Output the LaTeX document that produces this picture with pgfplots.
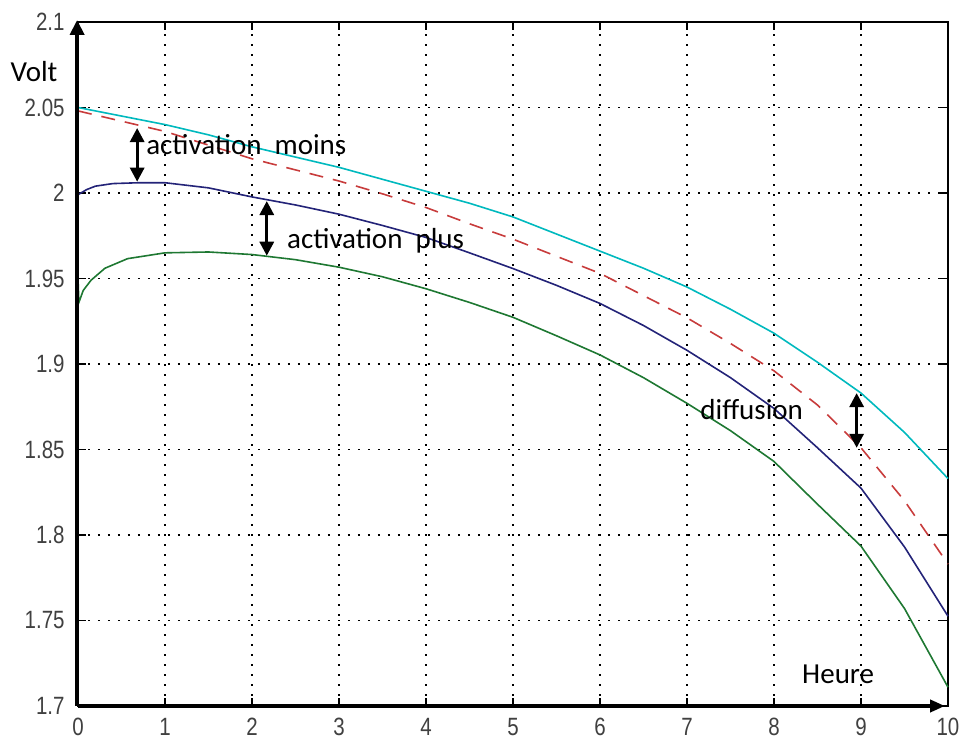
\documentclass[border=0pt]{standalone}
\usepackage{fontspec}
\setmainfont{Carlito}
\newfontfamily\tickfont[FakeStretch=0.82]{Liberation Sans}
\usepackage{pgfplots}
\pgfplotsset{compat=1.18}
\usetikzlibrary{arrows.meta}
\definecolor{mcyan}{RGB}{0,185,190}
\definecolor{mblue}{RGB}{35,35,120}
\definecolor{mgreen}{RGB}{30,120,50}
\definecolor{mred}{RGB}{200,60,60}
\begin{document}
\begin{tikzpicture}
\begin{axis}[
  name=ax, at={(0,0)}, anchor=south west,
  width=435pt, height=342pt, scale only axis,
  xmin=0, xmax=10, ymin=1.7, ymax=2.1,
  xtick={0,1,2,3,4,5,6,7,8,9,10},
  xticklabels={0,1,2,3,4,5,6,7,8,9,10},
  ytick={1.7,1.75,1.8,1.85,1.9,1.95,2,2.05,2.1},
  yticklabels={1.7,1.75,1.8,1.85,1.9,1.95,2,2.05,2.1},
  tick align=inside, xtick pos=both, ytick pos=both,
  major tick length=4pt,
  tick style={black, line width=0.6pt},
  grid=major,
  grid style={black, line width=0.8pt, dash pattern=on 0.8pt off 4.2pt},
  axis line style={black, line width=0.8pt},
  /pgf/number format/assume math mode=true,
  ticklabel style={font=\tickfont\fontsize{12.5}{12.5}\selectfont, text=black!75, inner sep=0pt},
  yticklabel style={xshift=-6.5pt},
  xticklabel style={yshift=-6pt},
  clip=false,
]
\addplot[mcyan, line width=0.8pt] coordinates {
(0,2.050)(0.5,2.045)(1,2.040)(1.5,2.034)(2,2.027)(2.5,2.021)(3,2.015)(3.5,2.008)(4,2.001)(4.5,1.994)(5,1.986)(5.5,1.976)(6,1.966)(6.5,1.956)(7,1.945)(7.5,1.932)(8,1.918)(8.5,1.901)(9,1.883)(9.5,1.860)(10,1.833)};
\addplot[mred, line width=0.8pt, dash pattern=on 7pt off 5pt] coordinates {
(0,2.048)(0.5,2.042)(1,2.036)(1.5,2.028)(2,2.020)(2.5,2.0135)(3,2.007)(3.5,1.9995)(4,1.9915)(4.5,1.982)(5,1.973)(5.5,1.963)(6,1.953)(6.5,1.940)(7,1.927)(7.5,1.912)(8,1.896)(8.5,1.876)(9,1.851)(9.5,1.820)(10,1.783)};
\addplot[mblue, line width=0.8pt] coordinates {
(0,1.999)(0.1,2.002)(0.2,2.004)(0.4,2.0055)(0.7,2.006)(1,2.006)(1.5,2.003)(2,1.9977)(2.5,1.993)(3,1.9876)(3.5,1.981)(4,1.974)(4.5,1.965)(5,1.9558)(5.5,1.946)(6,1.9354)(6.5,1.9225)(7,1.908)(7.5,1.892)(8,1.874)(8.5,1.851)(9,1.8274)(9.5,1.793)(10,1.7525)};
\addplot[mgreen, line width=0.8pt] coordinates {
(0,1.950)(0.01,1.936)(0.06,1.943)(0.15,1.949)(0.31,1.956)(0.57,1.9616)(1,1.965)(1.5,1.9655)(2,1.964)(2.5,1.961)(3,1.9566)(3.5,1.951)(4,1.944)(4.5,1.936)(5,1.9273)(5.5,1.9165)(6,1.9053)(6.5,1.892)(7,1.877)(7.5,1.861)(8,1.843)(8.5,1.818)(9,1.7935)(9.5,1.757)(10,1.711)};
% thick axes with arrows
\draw[black, line width=2pt, -{Triangle[length=7.5pt,width=7pt]}] (axis cs:-0.01,1.7) -- (axis cs:-0.01,2.1012);
\draw[black, line width=2pt, -{Triangle[length=7.5pt,width=6pt]}] (axis cs:0,1.7) -- (axis cs:9.966,1.7);
% annotation arrows
\draw[black, line width=1.5pt, {Triangle[length=7pt,width=7pt]}-{Triangle[length=7pt,width=7pt]}] (axis cs:0.68,2.038) -- (axis cs:0.68,2.0066);
\draw[black, line width=1.5pt, {Triangle[length=7pt,width=7pt]}-{Triangle[length=7pt,width=7pt]}] (axis cs:2.17,1.9953) -- (axis cs:2.17,1.9633);
\draw[black, line width=1.5pt, {Triangle[length=7pt,width=7pt]}-{Triangle[length=7pt,width=7pt]}] (axis cs:8.95,1.883) -- (axis cs:8.95,1.851);
% labels
\node[anchor=base west, inner sep=0pt, font=\fontsize{14.5}{14.5}\selectfont] at (axis cs:0.78,2.0225) {activation\ \ moins};
\node[anchor=base west, inner sep=0pt, font=\fontsize{14.5}{14.5}\selectfont] at (axis cs:2.40,1.9673) {activation\ \ plus};
\node[anchor=base west, inner sep=0pt, font=\fontsize{14.5}{14.5}\selectfont] at (axis cs:7.15,1.8674) {diffusion};
\node[anchor=base west, inner sep=0pt, font=\fontsize{14.5}{14.5}\selectfont] at (axis cs:-0.78,2.0651) {Volt};
\node[anchor=base west, inner sep=0pt, font=\fontsize{14.5}{14.5}\selectfont] at (axis cs:8.32,1.7134) {Heure};
\end{axis}
\pgfresetboundingbox
\path (-39pt,-18.5pt) rectangle (441pt,353pt);
\end{tikzpicture}
\end{document}
